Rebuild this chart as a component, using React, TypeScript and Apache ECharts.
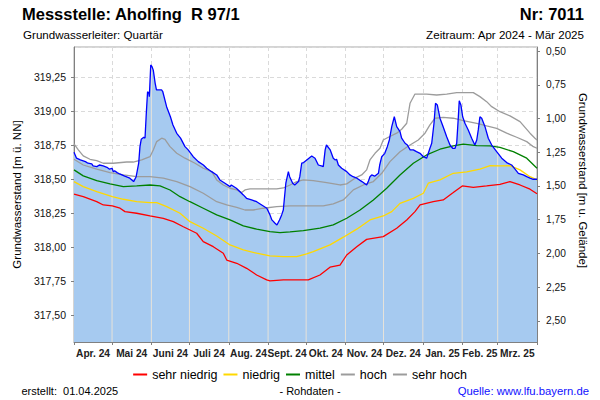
import React, { useEffect, useRef } from 'react';
import * as echarts from 'echarts';

const FONT = "'Liberation Sans', Arial, sans-serif";

// x values are days since 01.04.2024
const monthLabels = ['Apr. 24', 'Mai 24', 'Juni 24', 'Juli 24', 'Aug. 24', 'Sept. 24', 'Okt. 24', 'Nov. 24', 'Dez. 24', 'Jan. 25', 'Feb. 25', 'Mrz. 25'];
const monthStarts = [0, 30, 61, 91, 122, 153, 183, 214, 244, 275, 306, 334, 365];

// Grundwasserstand [m ü. NN]
const levelData: [number, number][] = [
  [0, 318.696], [2, 318.652], [5, 318.64], [9, 318.627], [11, 318.615], [14, 318.61], [15, 318.595], [18, 318.59],
  [20, 318.602], [23, 318.595], [26, 318.585], [28, 318.571], [30, 318.578], [31, 318.553], [32, 318.56], [34, 318.546],
  [36, 318.536], [40, 318.52], [44, 318.505], [47, 318.48], [49, 318.516], [51, 318.615], [52, 318.737], [53, 318.791],
  [55, 318.806], [56, 318.8], [57, 318.982], [58, 319.141], [59, 319.13], [59.4, 319.105], [60.5, 319.338], [61.5, 319.325],
  [62.5, 319.3], [64, 319.203], [65, 319.154], [69, 319.154], [70, 319.141], [73, 319.031], [76, 318.957], [78, 318.896],
  [81, 318.835], [84, 318.8], [87.5, 318.737], [90, 318.713], [94, 318.663], [98, 318.627], [102, 318.602], [104.6, 318.578],
  [108.5, 318.553], [112.5, 318.529], [115, 318.492], [119, 318.468], [123, 318.443], [124, 318.455], [128, 318.431],
  [133.5, 318.382], [136, 318.357], [140, 318.345], [144, 318.332], [148, 318.308], [152, 318.284], [154.5, 318.235],
  [156, 318.198], [158.5, 318.174], [160, 318.161], [162, 318.198], [163.7, 318.235], [165, 318.271], [167, 318.468],
  [169, 318.553], [170, 318.516], [172.4, 318.468], [174, 318.455], [177, 318.48], [178, 318.516], [179.5, 318.615],
  [181, 318.62], [183.5, 318.639], [187.4, 318.668], [190, 318.652], [192.6, 318.602], [195, 318.595], [196.5, 318.59],
  [198, 318.713], [199, 318.749], [202, 318.713], [204.4, 318.652], [206, 318.639], [207, 318.644], [208.4, 318.602],
  [211, 318.578], [215, 318.553], [217.6, 318.529], [220, 318.516], [223, 318.505], [227, 318.48], [230.7, 318.455],
  [232, 318.48], [233.3, 318.516], [234.7, 318.529], [237, 318.52], [240, 318.541], [241, 318.602], [242.6, 318.663],
  [245, 318.688], [247, 318.737], [248.6, 318.786], [250.5, 318.884], [252.5, 318.957], [254.4, 318.884], [257, 318.847],
  [258.3, 318.799], [261, 318.762], [262.8, 318.749], [265, 318.713], [267.5, 318.713], [270, 318.7], [272.8, 318.688],
  [275.4, 318.663], [278, 318.652], [279.3, 318.688], [280.6, 318.725], [282, 318.762], [283.8, 318.909], [285, 319.056],
  [286.4, 319.044], [288.5, 318.946], [291, 318.884], [293.8, 318.81], [296.4, 318.749], [298.5, 318.725], [300.4, 318.725],
  [301.7, 318.762], [303, 318.957], [303.7, 319.075], [305, 319.044], [306.4, 318.957], [308.2, 318.909], [310.8, 318.86],
  [313.5, 318.799], [316, 318.749], [317.5, 318.786], [318.7, 318.86], [320, 318.957], [321.4, 318.946], [324, 318.884],
  [326.6, 318.799], [329.3, 318.749], [333.2, 318.7], [337.2, 318.652], [341.1, 318.62], [345, 318.602], [347.7, 318.571],
  [350.3, 318.541], [354.2, 318.529], [356.9, 318.516], [359.5, 318.505], [362, 318.497], [365, 318.497],
];

const sehrHoch: [number, number][] = [
  [0, 318.757], [3.4, 318.713], [7.3, 318.669], [12.6, 318.644], [17.9, 318.634], [23.1, 318.615], [31, 318.615],
  [41.5, 318.624], [46.7, 318.624], [53.4, 318.639], [59.9, 318.663], [62.5, 318.713], [65.2, 318.774], [69.1, 318.799],
  [71.7, 318.791], [75.7, 318.737], [81, 318.688], [87.5, 318.652], [95.4, 318.615], [101.9, 318.578], [108.6, 318.553],
  [112.5, 318.492], [117.7, 318.455], [123, 318.431], [128.3, 318.419], [132.2, 318.399], [134.8, 318.419], [138.7, 318.426],
  [149.2, 318.426], [159.8, 318.426], [165, 318.433], [170.3, 318.455], [175.6, 318.48], [180.8, 318.492], [188.6, 318.487],
  [199.2, 318.472], [209.7, 318.455], [215, 318.463], [221.5, 318.505], [226.8, 318.529], [230.7, 318.566], [233.3, 318.639],
  [237.3, 318.688], [241.2, 318.725], [243.8, 318.786], [247.8, 318.806], [254.4, 318.836], [258.3, 318.865], [262.3, 318.909],
  [264.9, 319.056], [268.8, 319.124], [278, 319.124], [285.9, 319.117], [293.8, 319.124], [301.7, 319.134], [314.8, 319.134],
  [320, 319.105], [325.3, 319.068], [329.3, 319.031], [335.8, 318.994], [343.7, 318.963], [351.6, 318.921], [359.5, 318.836],
  [363.4, 318.799], [365, 318.786],
];

const hoch: [number, number][] = [
  [0, 318.644], [7.3, 318.602], [17.9, 318.571], [28.4, 318.546], [38.9, 318.529], [49.4, 318.516], [59.9, 318.516],
  [70.4, 318.505], [81, 318.48], [91.4, 318.443], [101.9, 318.394], [112.5, 318.332], [120.4, 318.308], [128.3, 318.291],
  [134.8, 318.271], [141.3, 318.271], [149.2, 318.284], [159.8, 318.296], [170.3, 318.301], [196.5, 318.301], [204.4, 318.316],
  [212.3, 318.345], [220.2, 318.419], [228.1, 318.455], [236, 318.48], [242.6, 318.541], [249.1, 318.627], [257, 318.7],
  [264.9, 318.749], [271.4, 318.786], [276.7, 318.836], [280.6, 318.897], [284.6, 318.946], [291.1, 318.953], [299, 318.946],
  [306.9, 318.928], [317.5, 318.909], [325.3, 318.889], [333.2, 318.872], [341.1, 318.836], [349, 318.806], [356.9, 318.774],
  [362.1, 318.737], [365, 318.725],
];

const mittel: [number, number][] = [
  [0, 318.566], [7.3, 318.522], [17.9, 318.487], [28.4, 318.463], [38.9, 318.443], [49.4, 318.448], [59.9, 318.455],
  [67.8, 318.448], [75.7, 318.418], [83.6, 318.369], [91.4, 318.332], [101.9, 318.284], [112.5, 318.235], [123, 318.198],
  [133.5, 318.154], [144, 318.13], [154.5, 318.112], [162.4, 318.105], [170.3, 318.11], [180.8, 318.119], [193.9, 318.137],
  [204.4, 318.161], [215, 318.21], [225.5, 318.271], [236, 318.345], [246.5, 318.431], [257, 318.529], [267.5, 318.615],
  [278, 318.676], [288.5, 318.718], [299, 318.742], [306.9, 318.755], [317.5, 318.744], [328, 318.742], [335.8, 318.732],
  [346.3, 318.7], [356.9, 318.652], [365, 318.578],
];

const niedrig: [number, number][] = [
  [0, 318.48], [7.3, 318.443], [17.9, 318.406], [30.2, 318.369], [38.9, 318.35], [49.4, 318.332], [59.9, 318.325],
  [65.2, 318.325], [73.1, 318.296], [83.6, 318.247], [91.4, 318.185], [101.9, 318.137], [112.5, 318.08], [123, 318.014],
  [133.5, 317.977], [144, 317.953], [154.5, 317.933], [165, 317.928], [175.6, 317.928], [183.4, 317.948], [188.6, 317.965],
  [201.8, 318.014], [212.3, 318.071], [222.9, 318.13], [233.3, 318.198], [243.8, 318.227], [250.5, 318.259], [257, 318.32],
  [267.5, 318.357], [275.4, 318.394], [279.3, 318.468], [288.5, 318.492], [299, 318.541], [309.6, 318.551], [320, 318.571],
  [328, 318.597], [335.8, 318.595], [343.7, 318.597], [351.6, 318.566], [359.5, 318.516], [365, 318.492],
];

const sehrNiedrig: [number, number][] = [
  [0, 318.387], [7.3, 318.369], [17.9, 318.332], [23.1, 318.308], [30.2, 318.301], [36.3, 318.284], [40.2, 318.259],
  [49.4, 318.247], [59.9, 318.227], [70.4, 318.21], [78.3, 318.185], [86.2, 318.148], [96.7, 318.1], [101.9, 318.038],
  [109.8, 318.001], [117.7, 317.953], [120.4, 317.903], [128.3, 317.879], [136.1, 317.842], [144, 317.793], [151.9, 317.757],
  [154.5, 317.749], [165, 317.757], [184.7, 317.757], [193.9, 317.793], [201.8, 317.85], [209.7, 317.866], [215, 317.94],
  [222.9, 318.001], [230.7, 318.055], [243.8, 318.075], [254.4, 318.137], [262.3, 318.198], [268.8, 318.259], [272.8, 318.308],
  [283.2, 318.333], [291.1, 318.345], [299, 318.399], [306.1, 318.448], [314.8, 318.438], [325.3, 318.448], [335.8, 318.46],
  [343.7, 318.48], [351.6, 318.455], [359.5, 318.424], [365, 318.39],
];

const fmt = (v: number) => v.toFixed(2).replace('.', ',');

function interp(data: [number, number][], d: number): number {
  for (let i = 0; i < data.length - 1; i++) {
    const [x0, y0] = data[i];
    const [x1, y1] = data[i + 1];
    if (d >= x0 && d <= x1) return x1 === x0 ? y0 : y0 + ((y1 - y0) * (d - x0)) / (x1 - x0);
  }
  return data[data.length - 1][1];
}

export default function App() {
  const ref = useRef<HTMLDivElement>(null);
  useEffect(() => {
    if (!ref.current) return;
    const chart = echarts.init(ref.current, null, { renderer: 'svg' });
    const midDays = monthLabels.map((_, i) => (monthStarts[i] + monthStarts[i + 1]) / 2);
    const innerStarts = monthStarts.slice(1, -1);
    const boundaryBars = innerStarts.map((d) => [d, interp(levelData, d)]);

    const band = (name: string, data: [number, number][], color: string) => ({
      name,
      type: 'line',
      data,
      symbol: 'none',
      showSymbol: false,
      silent: true,
      lineStyle: { color, width: 1.3 },
      itemStyle: { color },
      z: 4,
    });

    const text = (t: string, x: number, y: number, size: number, opts: any = {}) => ({
      type: 'text',
      x,
      y,
      silent: true,
      style: {
        text: t,
        fill: opts.fill || '#000',
        fontSize: size,
        fontWeight: opts.bold ? 'bold' : 'normal',
        fontFamily: FONT,
        align: opts.align || 'left',
        verticalAlign: 'middle',
      },
    });

    chart.setOption({
      animation: false,
      backgroundColor: '#ffffff',
      grid: {
        left: 74, right: 63, top: 47, bottom: 58,
        show: true, borderColor: '#a8a8a8', borderWidth: 1,
        containLabel: false, outerBoundsMode: 'none',
      },
      legend: {
        data: ['sehr niedrig', 'niedrig', 'mittel', 'hoch', 'sehr hoch'],
        top: 363, left: 'center', icon: 'rect', itemWidth: 14, itemHeight: 2, itemGap: 6,
        textStyle: { fontSize: 12.5, color: '#000', fontFamily: FONT },
        selectedMode: false,
      },
      xAxis: {
        type: 'value', min: 0, max: 365,
        axisLine: { show: true, onZero: false, lineStyle: { color: '#808080' } },
        axisTick: { show: true, customValues: monthStarts, length: 3, lineStyle: { color: '#808080' } },
        axisLabel: {
          customValues: midDays,
          formatter: (v: number) => {
            let best = 0;
            midDays.forEach((m, i) => { if (Math.abs(m - v) < Math.abs(midDays[best] - v)) best = i; });
            return monthLabels[best];
          },
          fontSize: 10.2, fontWeight: 'bold', color: '#222', margin: 6, fontFamily: FONT,
        },
        splitLine: { show: true, lineStyle: { color: '#dadada', type: [4, 3] } },
      },
      yAxis: [
        {
          type: 'value', position: 'left', min: 317.3, max: 319.47, minInterval: 0.25, maxInterval: 0.25,
          axisLine: { show: true, lineStyle: { color: '#808080' } },
          axisTick: { show: true, length: 3, lineStyle: { color: '#808080' } },
          axisLabel: { formatter: fmt, showMinLabel: false, showMaxLabel: false, fontSize: 10.5, color: '#111', margin: 8, fontFamily: FONT },
          splitLine: { show: true, lineStyle: { color: '#dadada', type: [4, 3] } },
          name: 'Grundwasserstand [m ü. NN]', nameLocation: 'middle', nameGap: 46,
          nameTextStyle: { fontSize: 11.5, color: '#000', fontFamily: FONT },
        },
        {
          type: 'value', position: 'right', inverse: true, min: 0.47, max: 2.656, minInterval: 0.25, maxInterval: 0.25,
          axisLine: { show: true, lineStyle: { color: '#808080' } },
          axisTick: { show: true, length: 3, lineStyle: { color: '#808080' } },
          axisLabel: { formatter: fmt, showMinLabel: false, showMaxLabel: false, fontSize: 10.2, color: '#111', margin: 9, fontFamily: FONT },
          splitLine: { show: false },
          name: 'Grundwasserstand [m u. Gelände]', nameLocation: 'middle', nameGap: 37, nameRotate: -90,
          nameTextStyle: { fontSize: 11.5, color: '#000', fontFamily: FONT, padding: [0, 28, 0, 0] },
        },
      ],
      series: [
        {
          name: 'Fläche', type: 'line', data: levelData, symbol: 'none', showSymbol: false, silent: true,
          lineStyle: { width: 0 }, areaStyle: { color: '#A6CAF0', opacity: 1, origin: 'start' }, z: 2,
        },
        {
          name: 'Monatsgrenzen', type: 'bar', data: boundaryBars, barWidth: 1, silent: true,
          itemStyle: { color: '#e6e2da' }, z: 3,
        },
        band('sehr niedrig', sehrNiedrig, '#ff0000'),
        band('niedrig', niedrig, '#ffd800'),
        band('mittel', mittel, '#008000'),
        band('hoch', hoch, '#9c9c9c'),
        band('sehr hoch', sehrHoch, '#9c9c9c'),
        {
          name: 'Grundwasserstand', type: 'line', data: levelData, symbol: 'none', showSymbol: false, silent: true,
          lineStyle: { color: '#0000ff', width: 1.3 }, z: 5,
        },
      ],
      graphic: [
        text('Messstelle: Aholfing  R 97/1', 22, 13.5, 16.5, { bold: true }),
        text('Nr: 7011', 584, 13.5, 16.5, { bold: true, align: 'right' }),
        text('Grundwasserleiter: Quartär', 23, 34.5, 11.6),
        text('Zeitraum: Apr 2024 - Mär 2025', 584, 34.5, 11.6, { align: 'right' }),
        text('erstellt:  01.04.2025', 21.5, 391, 11),
        text('- Rohdaten -', 310, 391, 11, { align: 'center' }),
        text('Quelle: www.lfu.bayern.de', 589, 391, 11.3, { align: 'right', fill: '#1010ff' }),
      ],
    });
    return () => chart.dispose();
  }, []);
  return <div ref={ref} style={{ position: 'fixed', left: 0, top: 0, width: 600, height: 400 }} />;
}
